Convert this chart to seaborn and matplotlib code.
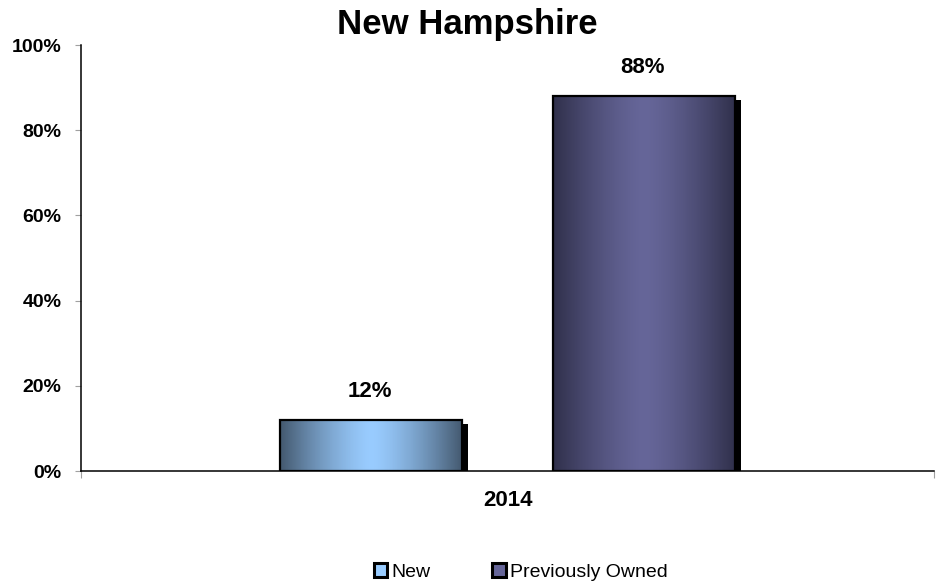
import numpy as np
import pandas as pd
import matplotlib
matplotlib.use("Agg")
import matplotlib.pyplot as plt
import matplotlib.patheffects as pe
from matplotlib.patches import Patch, Rectangle
from matplotlib.colors import LinearSegmentedColormap
import seaborn as sns

# Data
years = ["2014"]
series = ["New", "Previously Owned"]
shares = [0.12, 0.88]
value_labels = ["12%", "88%"]
y_ticks = [0.0, 0.2, 0.4, 0.6, 0.8, 1.0]
y_tick_labels = ["0%", "20%", "40%", "60%", "80%", "100%"]

# Edge / center colours for the horizontal shading of each series
edge_colors = ["#44596f", "#30304b"]
center_colors = ["#99ccff", "#666699"]

df = pd.DataFrame({"year": years * len(series), "type": series, "share": shares})

sns.set_theme(style="white")
plt.rcParams["font.family"] = ["Liberation Sans", "DejaVu Sans"]
plt.rcParams["text.color"] = "black"
plt.rcParams["xtick.labelcolor"] = "black"
plt.rcParams["ytick.labelcolor"] = "black"

fig = plt.figure(figsize=(9.45, 5.83), dpi=100)
ax = fig.add_axes([0.0857, 0.1921, 0.9027, 0.7307])

sns.barplot(data=df, x="year", y="share", hue="type", hue_order=series,
            palette=center_colors, width=0.64, gap=0.33, ax=ax,
            legend=False, saturation=1, edgecolor="black", linewidth=0)

ax.set_xlim(-0.5, 0.5)
ax.set_ylim(0, 1.0)

bars = [c[0] for c in ax.containers]
t = np.linspace(0, 1, 256)
for bar, c_edge, c_mid, lab in zip(bars, edge_colors, center_colors, value_labels):
    x0, y0 = bar.get_x(), bar.get_y()
    w, h = bar.get_width(), bar.get_height()
    # drop shadow behind the bar
    bar.set_path_effects([pe.SimplePatchShadow(offset=(4.3, -2.9), shadow_rgbFace="black", alpha=1.0),
                          pe.Normal()])
    # horizontal gradient (dark edges, light middle) clipped to the bar
    cmap = LinearSegmentedColormap.from_list("g", [c_edge, c_mid, c_edge])
    half = 0.5 * (1 - np.abs(2 * t - 1) ** 1.4)
    grad = np.array([np.where(t < 0.5, half, 1 - half)])
    im = ax.imshow(grad, cmap=cmap, vmin=0, vmax=1, aspect="auto",
                   extent=(x0, x0 + w, y0, y0 + h), zorder=bar.get_zorder() + 0.1,
                   interpolation="bilinear")
    im.set_clip_path(bar)
    ax.add_patch(Rectangle((x0, y0), w, h, facecolor="none", edgecolor="black",
                           linewidth=1.6, zorder=bar.get_zorder() + 0.2))
    ax.annotate(lab, (x0 + w / 2, y0 + h), xytext=(-1, 16.5), textcoords="offset points",
                ha="center", va="baseline", fontsize=16, fontweight="bold")

ax.set_xlim(-0.5, 0.5)
ax.set_ylim(0, 1.0)

# axes styling
for s in ["top", "right"]:
    ax.spines[s].set_visible(False)
for s in ["left", "bottom"]:
    ax.spines[s].set_color("black")
    ax.spines[s].set_linewidth(1.1)

ax.set_yticks(y_ticks)
ax.set_yticklabels(y_tick_labels, fontsize=14, fontweight="bold")
ax.tick_params(axis="y", which="major", direction="out", length=4, width=0.8,
               color="#a0a0a0", pad=10, left=True)
ax.set_xticks([0])
ax.set_xticklabels(years, fontsize=16, fontweight="bold")
ax.tick_params(axis="x", which="major", length=0, pad=13.5)
ax.set_xticks([-0.5, 0.5], minor=True)
ax.tick_params(axis="x", which="minor", direction="out", length=5, width=0.8,
               color="#a0a0a0", bottom=True)
ax.set_xlabel("")
ax.set_ylabel("")
ax.grid(False)

fig.text(0.495, 1 - 34 / 583, "New Hampshire", ha="center", va="baseline",
         fontsize=25, fontweight="bold")

handles = [Patch(facecolor=c, edgecolor="black", linewidth=2.2) for c in center_colors]
fig.legend(handles, series, loc="center left", bbox_to_anchor=(374 / 945, 1 - 572 / 583),
           ncol=2, frameon=False, fontsize=14, handlelength=0.68, handleheight=0.68,
           handletextpad=0.2, columnspacing=3.2, borderaxespad=0, borderpad=0)

fig.savefig("out.png", dpi=100, facecolor="white")
